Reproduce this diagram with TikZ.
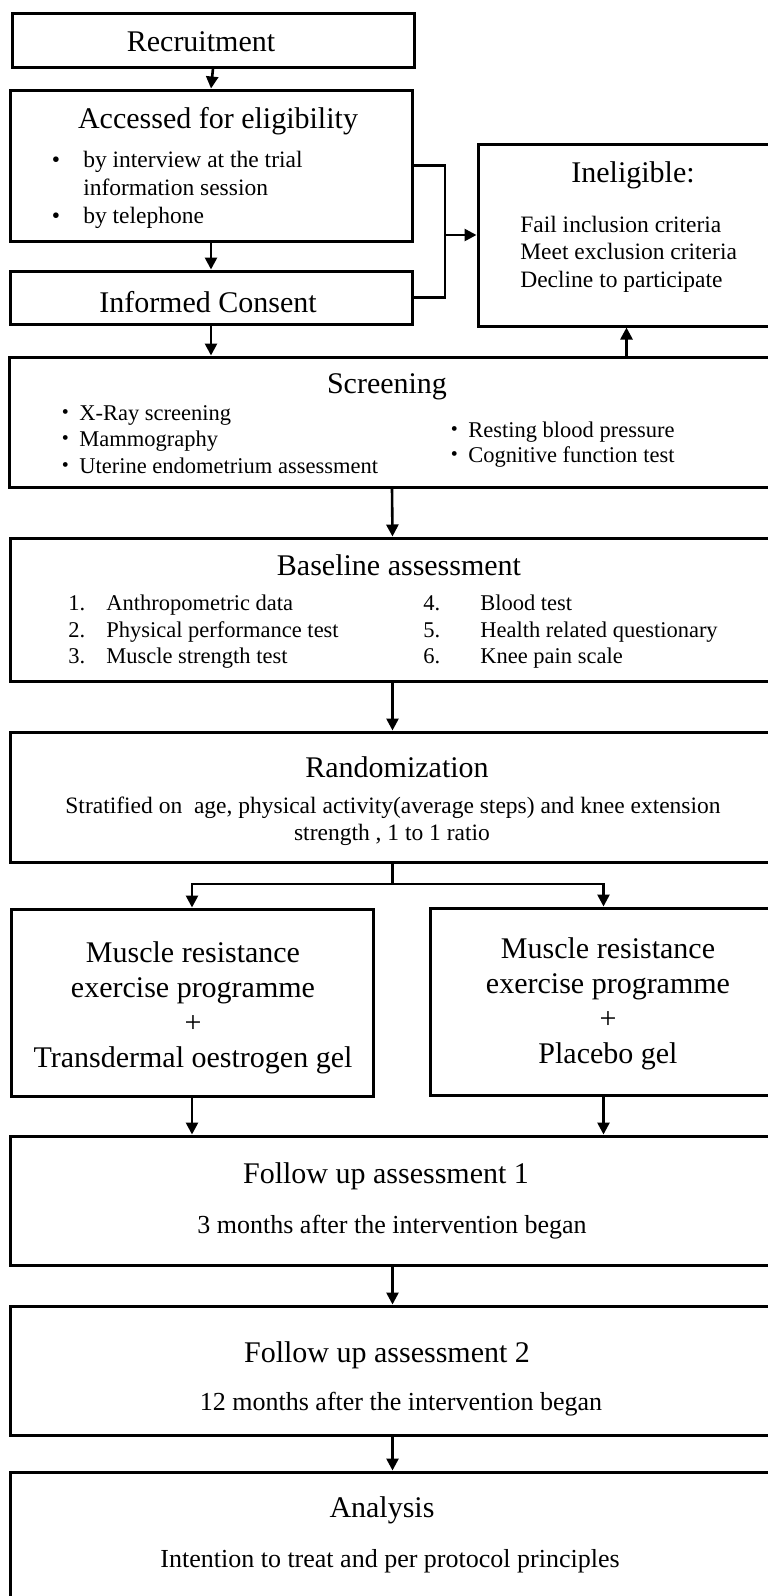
\documentclass[tikz,border=0pt]{standalone}
\usepackage{fontspec}
\setmainfont{Liberation Serif}
\newfontfamily\cjk{Noto Sans CJK JP}
\usetikzlibrary{arrows.meta}

\begin{document}
\begin{tikzpicture}[x=1pt,y=-1pt,->,>={Triangle[length=12pt,width=12pt]},line width=2.6pt,
    box/.style={draw,rectangle,line width=3pt,inner sep=0pt},
    head/.style={anchor=base,inner sep=0pt,font=\fontsize{30}{35}\selectfont},
    txt/.style={anchor=base,inner sep=0pt,font=\fontsize{23.5}{28}\selectfont},
    txts/.style={anchor=base,inner sep=0pt,font=\fontsize{22.5}{26}\selectfont},
    txtb/.style={anchor=base,inner sep=0pt,font=\fontsize{26}{30}\selectfont}]

    \useasboundingbox (0,0) rectangle (768,1596);
    \clip (0,0) rectangle (768,1596);

    % boxes
    \node[box,minimum width=402,minimum height=54]  (rec)  at (213,40)    {};
    \node[box,minimum width=402,minimum height=151] (acc)  at (211,165.5) {};
    \node[box,minimum width=402,minimum height=53]  (con)  at (211,297.5) {};
    \node[box,minimum width=297,minimum height=182] (inel) at (626.5,235) {};
    \node[box,minimum width=766,minimum height=130] (scr)  at (392,422)   {};
    \node[box,minimum width=765,minimum height=143] (base) at (392.5,609.5) {};
    \node[box,minimum width=765,minimum height=130] (rand) at (392.5,797) {};
    \node[box,minimum width=362,minimum height=187] (grpA) at (192,1002.5) {};
    \node[box,minimum width=347,minimum height=187] (grpB) at (603.5,1001.5) {};
    \node[box,minimum width=765,minimum height=129] (fu1)  at (392.5,1200.5) {};
    \node[box,minimum width=765,minimum height=129] (fu2)  at (392.5,1370.5) {};
    \node[box,minimum width=765,minimum height=150] (ana)  at (392.5,1547) {};

    % texts
    \node[head] (recT) at (201,51) {Recruitment};
    \node[head] (accT) at (218,128) {Accessed for eligibility};
    \node[txt] (accD1) at (56,167) {•};
    \node[txt,anchor=base west] (accL1) at (82,167) {by interview at the trial};
    \node[txt,anchor=base west] (accL2) at (82,195) {information session};
    \node[txt] (accD2) at (56,223) {•};
    \node[txt,anchor=base west] (accL3) at (82,223) {by telephone};
    \node[head] (conT) at (208,312) {Informed Consent};

    \node[head] (inelT) at (633,182) {Ineligible:};
    \node[txt,anchor=base west] (inel1) at (519,232) {Fail inclusion criteria};
    \node[txt,anchor=base west] (inel2) at (519,259.5) {Meet exclusion criteria};
    \node[txt,anchor=base west] (inel3) at (519,287) {Decline to participate};

    \node[head] (scrT) at (387,393) {Screening};
    \node[txts] (scrD1) at (66,420) {\cjk ・};
    \node[txts,anchor=base west] (scr1) at (78,420) {X-Ray screening};
    \node[txts] (scrD2) at (66,446.5) {\cjk ・};
    \node[txts,anchor=base west] (scr2) at (78,446.5) {Mammography};
    \node[txts] (scrD3) at (66,473) {\cjk ・};
    \node[txts,anchor=base west] (scr3) at (78,473) {Uterine endometrium assessment};
    \node[txts] (scrD4) at (455,437) {\cjk ・};
    \node[txts,anchor=base west] (scr4) at (467,437) {Resting blood pressure};
    \node[txts] (scrD5) at (455,462) {\cjk ・};
    \node[txts,anchor=base west] (scr5) at (467,462) {Cognitive function test};

    \node[head] (baseT) at (399,575) {Baseline assessment};
    \node[txts,anchor=base west] (baseN1) at (67,610) {1.};
    \node[txts,anchor=base west] (base1) at (105,610) {Anthropometric data};
    \node[txts,anchor=base west] (baseN2) at (67,637) {2.};
    \node[txts,anchor=base west] (base2) at (105,637) {Physical performance test};
    \node[txts,anchor=base west] (baseN3) at (67,663) {3.};
    \node[txts,anchor=base west] (base3) at (105,663) {Muscle strength test};
    \node[txts,anchor=base west] (baseN4) at (422,610) {4.};
    \node[txts,anchor=base west] (base4) at (479,610) {Blood test};
    \node[txts,anchor=base west] (baseN5) at (422,637) {5.};
    \node[txts,anchor=base west] (base5) at (479,637) {Health related questionary};
    \node[txts,anchor=base west] (baseN6) at (422,663) {6.};
    \node[txts,anchor=base west] (base6) at (479,663) {Knee pain scale};

    \node[head] (randT) at (397,777) {Randomization};
    \node[txt] (rand1) at (393,813) {Stratified on\ \ age, physical activity(average steps) and knee extension};
    \node[txt] (rand2) at (392,840) {strength , 1 to 1 ratio};

    \node[head] (grpA1) at (193,962) {Muscle resistance};
    \node[head] (grpA2) at (193,997) {exercise programme};
    \node[head] (grpA3) at (193,1032) {+};
    \node[head] (grpA4) at (193,1067) {Transdermal oestrogen gel};
    \node[head] (grpB1) at (608,958) {Muscle resistance};
    \node[head] (grpB2) at (608,993) {exercise programme};
    \node[head] (grpB3) at (608,1028) {+};
    \node[head] (grpB4) at (608,1063) {Placebo gel};

    \node[head] (fu1T) at (386,1183) {Follow up assessment 1};
    \node[txtb] (fu1S) at (392,1233) {3 months after the intervention began};
    \node[head] (fu2T) at (387,1362) {Follow up assessment 2};
    \node[txtb] (fu2S) at (401,1410) {12 months after the intervention began};
    \node[head] (anaT) at (382,1517) {Analysis};
    \node[txtb] (anaS) at (390,1567) {Intention to treat and per protocol principles};

    % connectors
    \coordinate (jn) at (445,235);
    \coordinate (sp) at (392.5,884);
    \draw (rec.south) -- (acc.north);
    \draw (acc.south) -- (con.north);
    \draw (con.south) -- (con.south |- scr.north);
    \draw[-] (acc.east) -| (jn) |- (con.east);
    \draw (jn) -- (inel.west);
    \draw (inel.south |- scr.north) -- (inel.south);
    \draw (scr.south) -- (base.north);
    \draw (base.south) -- (rand.north);
    \draw[-] (rand.south) -- (sp);
    \draw (sp) -| (grpA.north);
    \draw (sp) -| (grpB.north);
    \draw (grpA.south) -- (grpA.south |- fu1.north);
    \draw (grpB.south) -- (grpB.south |- fu1.north);
    \draw (fu1.south) -- (fu2.north);
    \draw (fu2.south) -- (ana.north);
\end{tikzpicture}
\end{document}
